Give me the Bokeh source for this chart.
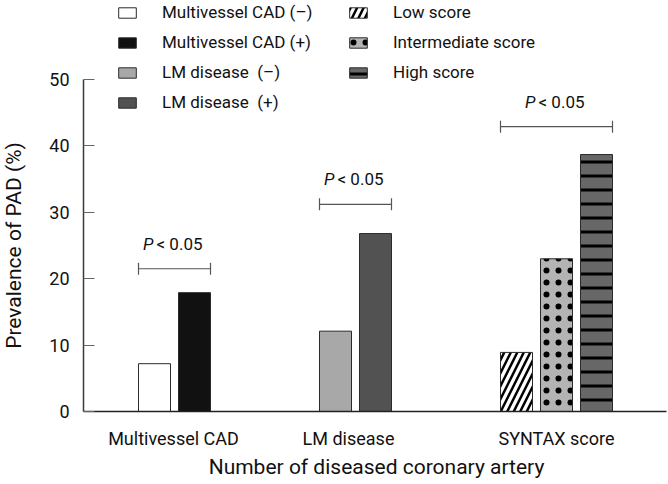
import math
from bokeh.plotting import figure
from bokeh.models import Range1d, FixedTicker, Legend, LegendItem, Label
from bokeh.core.properties import value
from bokeh.embed import file_html
from bokeh.resources import INLINE

# ---- data ----
categories = ["Multivessel CAD", "LM disease", "SYNTAX score"]
mv_labels = ["Multivessel CAD (\u2013)", "Multivessel CAD (+)"]
mv_values = [7.2, 17.9]
lm_labels = ["LM disease\u00a0 (\u2013)", "LM disease\u00a0 (+)"]
lm_values = [12.1, 26.8]
syntax_labels = ["Low score", "Intermediate score", "High score"]
syntax_values = [8.9, 23.0, 38.7]
sig_levels = [21.5, 31.2, 42.9]
sig_text = "< 0.05"
y_ticks = [0, 10, 20, 30, 40, 50]
x_title = "Number of diseased coronary artery"
y_title = "Prevalence of PAD (%)"

# ---- layout (positions in bar-slot units) ----
group_centers = [2.275, 6.8, 11.825]
label_centers = [2.25, 6.625, 11.825]
slot = 1.0
bar_w = 0.8

FONT = "Roboto"

p = figure(width=668, height=484, output_backend="svg", toolbar_location=None,
           x_range=Range1d(-2.075, 14.625), y_range=Range1d(-10.994, 61.9),
           min_border_left=0, min_border_right=0, min_border_top=0, min_border_bottom=0)
p.outline_line_color = None
p.xgrid.visible = False
p.ygrid.visible = False
p.background_fill_color = "white"

styles = {
    mv_labels[0]: dict(fill_color="white"),
    mv_labels[1]: dict(fill_color="#111111"),
    lm_labels[0]: dict(fill_color="#a8a8a8"),
    lm_labels[1]: dict(fill_color="#525252"),
    syntax_labels[0]: dict(fill_color="white", hatch_pattern="right_diagonal_line",
                           hatch_scale=13, hatch_weight=2.5, hatch_color="black"),
    syntax_labels[1]: dict(fill_color="#b4b4b4", hatch_pattern="dot",
                           hatch_scale=12, hatch_weight=2, hatch_color="black"),
    syntax_labels[2]: dict(fill_color="#676767", hatch_pattern="horizontal_line",
                           hatch_scale=14, hatch_weight=3, hatch_color="black"),
}

groups = [(mv_labels, mv_values), (lm_labels, lm_values), (syntax_labels, syntax_values)]
renderers = {}
for gi, (labels, vals) in enumerate(groups):
    n = len(vals)
    xs = [group_centers[gi] + (i - (n - 1) / 2) * slot for i in range(n)]
    for lab, x, v in zip(labels, xs, vals):
        r = p.vbar(x=[x], top=[v], bottom=0, width=bar_w, line_color="#2a2a2a",
                   line_width=1, **styles[lab])
        renderers[lab] = r
    # significance bracket
    x0 = xs[0] - bar_w / 2
    x1 = xs[-1] + bar_w / 2
    lvl = sig_levels[gi]
    p.segment(x0=[x0], y0=[lvl], x1=[x1], y1=[lvl], line_color="#555555", line_width=1.2)
    p.segment(x0=[x0, x1], y0=[lvl - 0.9, lvl - 0.9], x1=[x0, x1], y1=[lvl + 0.9, lvl + 0.9],
              line_color="#555555", line_width=1.2)
    cx = (x0 + x1) / 2
    p.text(x=[cx], y=[lvl], text=["P"], text_font=value(FONT), text_font_style="italic",
           text_font_size="17px", text_align="right", text_baseline="middle",
           x_offset=-21, y_offset=-25, text_color="#111111")
    p.text(x=[cx], y=[lvl], text=[sig_text], text_font=value(FONT),
           text_font_size="17px", text_align="left", text_baseline="middle",
           x_offset=-18, y_offset=-25, text_color="#111111")

# y axis drawn at x = 0 inside the frame
ya = p.yaxis[0]
ya.fixed_location = 0
ya.bounds = (0, 50)
ya.ticker = FixedTicker(ticks=y_ticks)
ya.major_tick_in = 11
ya.major_tick_out = 0
ya.minor_tick_line_color = None
ya.axis_line_color = "#3a3a3a"
ya.axis_line_width = 1.5
ya.major_tick_line_color = "#666666"
ya.major_tick_line_width = 1.2
ya.major_label_standoff = 14
ya.major_label_text_font = FONT
ya.major_label_text_font_size = "18px"
ya.major_label_text_color = "#111111"

# x axis drawn at y = 0 inside the frame
xa = p.xaxis[0]
xa.fixed_location = 0
xa.bounds = (0, 14.575)
xa.ticker = FixedTicker(ticks=label_centers)
xa.major_label_overrides = {c: t for c, t in zip(label_centers, categories)}
xa.major_tick_in = 0
xa.major_tick_out = 0
xa.minor_tick_line_color = None
xa.axis_line_color = "#222222"
xa.axis_line_width = 1.5
xa.major_label_standoff = 16
xa.major_label_text_font = FONT
xa.major_label_text_font_size = "18px"
xa.major_label_text_color = "#111111"

# axis titles
p.add_layout(Label(x=-1.75, y=25, text=y_title, angle=math.pi / 2,
                   text_align="center", text_baseline="middle", text_font=FONT,
                   text_font_size="21px", text_color="#111111"))
p.add_layout(Label(x=7.325, y=-8.43, text=x_title,
                   text_align="center", text_baseline="middle", text_font=FONT,
                   text_font_size="21px", text_color="#111111"))

def make_legend(labels, loc):
    leg = Legend(items=[LegendItem(label=l, renderers=[renderers[l]]) for l in labels],
                 location=loc, orientation="vertical")
    leg.glyph_width = 22
    leg.glyph_height = 13
    leg.label_height = 13
    leg.spacing = 10
    leg.label_standoff = 24
    leg.padding = 0
    leg.margin = 0
    leg.border_line_alpha = 0
    leg.background_fill_alpha = 0
    leg.label_text_font = FONT
    leg.label_text_font_size = "17px"
    leg.label_text_color = "#111111"
    leg.label_text_baseline = "middle"
    return leg

left_labels = mv_labels + lm_labels
# frame bottom is now at the canvas bottom (484); legend tops kept at the same place
p.add_layout(make_legend(left_labels, (116, 299 + 73)), "center")
p.add_layout(make_legend(syntax_labels, (347, 329 + 73)), "center")

open("out.html", "w").write(file_html(p, INLINE))
